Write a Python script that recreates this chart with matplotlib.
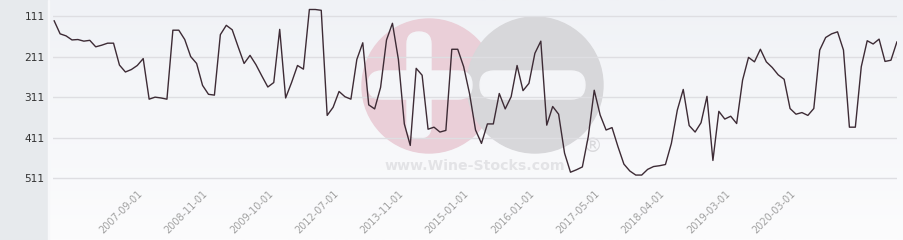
import matplotlib
matplotlib.use("Agg")
import matplotlib.pyplot as plt
import numpy as np
from matplotlib.patches import Circle, FancyBboxPatch, Rectangle

# rank history (lower rank number = better, axis is inverted)
ranks = [
    123, 155, 160, 170, 169, 173, 171, 187, 183, 178, 178, 232, 249, 243, 233, 216,
    316, 311, 313, 316, 146, 146, 169, 211,
    228, 282, 304, 306, 157, 134, 145, 187, 228, 208, 231, 259, 286, 275, 144, 313,
    275, 233, 242, 95, 95, 97, 356,
    336, 297, 310, 316, 218, 177, 330, 340, 287, 170, 129, 218, 377, 430, 240, 257,
    390, 385, 397, 393, 193, 193, 236, 303,
    392, 425, 377, 377, 302, 340, 310, 233, 295, 277, 203, 173, 380, 334, 353, 449,
    496, 490, 483, 408, 294, 355, 392, 386,
    433, 476, 493, 503, 503, 489, 482, 480, 477, 425, 343, 292, 381, 397, 374, 309,
    467, 346, 365, 358, 376, 269, 213,
    224, 193, 224, 238, 256, 267, 339, 353, 349, 356, 339, 195, 164, 155, 150, 195,
    385, 385, 236, 172, 180, 168, 223, 220, 175,
]
y_ticks = [111, 211, 311, 411, 511]
tick_labels = ["2007-09-01", "2008-11-01", "2009-10-01", "2012-07-01", "2013-11-01",
               "2015-01-01", "2016-01-01", "2017-05-01", "2018-04-01", "2019-03-01",
               "2020-03-01"]
first_tick, tick_step = 14, 11

W, H = 904, 240
fig = plt.figure(figsize=(W / 100, H / 100), dpi=100)
fig.patch.set_facecolor("white")

# background layer in pixel coordinates
bg = fig.add_axes([0, 0, 1, 1])
bg.set_xlim(0, W)
bg.set_ylim(H, 0)
bg.axis("off")
grad = np.linspace(0, 1, 100).reshape(-1, 1)
top = np.array([240, 242, 246]) / 255
bot = np.array([252, 252, 253]) / 255
img = top + (bot - top) * grad[..., None]
bg.imshow(img, extent=[48, W, H, 0], aspect="auto", zorder=0)
bg.add_patch(Rectangle((0, 0), 48, H, color="#e7eaed", zorder=1))
bg.add_patch(Rectangle((48, 0), 1.5, H, color="#f7f8fa", zorder=1))

# watermark logo
bg.add_patch(Circle((429, 86), 67, color="#eacfd8", zorder=2))
bg.add_patch(Circle((535, 85), 68, color="#d7d7da", zorder=3))
hole = "#f4f5f8"
bg.add_patch(FancyBboxPatch((368, 71), 104, 28,
                            boxstyle="round,pad=0,rounding_size=14", color=hole, zorder=4))
bg.add_patch(FancyBboxPatch((407, 32), 24, 106,
                            boxstyle="round,pad=0,rounding_size=12", color=hole, zorder=4))
bg.add_patch(FancyBboxPatch((480, 71), 105, 28,
                            boxstyle="round,pad=0,rounding_size=14", color=hole, zorder=4))
bg.text(475, 166, "www.Wine-Stocks.com", ha="center", va="center", fontsize=10.2,
        fontweight="bold", color="#e3e3e6", zorder=5)
bg.text(592, 146, "®", ha="center", va="center", fontsize=14, color="#d9d9dc", zorder=5)

# main chart
x0, x1, ybot = 53, 897, 182
ax = fig.add_axes([x0 / W, (H - ybot) / H, (x1 - x0) / W, ybot / H])
ax.patch.set_alpha(0)

xs = np.arange(len(ranks))
ax.plot(xs, ranks, color="#3d2b35", lw=1.0, zorder=3)

ax.set_xlim(-0.2, len(ranks) - 0.98)
ax.set_ylim(520.1, 71.6)

ax.set_yticks(y_ticks)
ax.set_yticklabels([str(v) for v in y_ticks])
ax.grid(axis="y", color="#dedee2", lw=1)
ax.set_axisbelow(True)

tick_pos = [first_tick + tick_step * i for i in range(len(tick_labels))]
ax.set_xticks(tick_pos)
ax.set_xticklabels(tick_labels, rotation=45, ha="right", va="top",
                   rotation_mode="anchor", fontsize=7, color="#a0a0a0")
ax.tick_params(axis="x", length=0, pad=5)
ax.tick_params(axis="y", length=0, pad=6, labelsize=7.7, labelcolor="#333333")
for s in ax.spines.values():
    s.set_visible(False)

fig.savefig("out.png", dpi=100)
